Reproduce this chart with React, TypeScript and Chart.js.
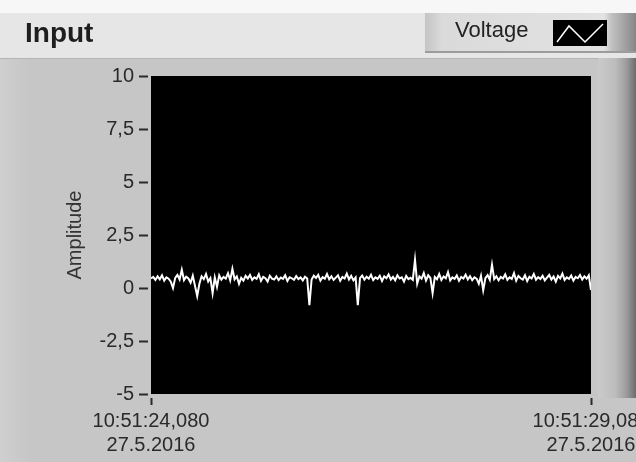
import React, { useEffect, useRef } from 'react';
import { Chart, registerables } from 'chart.js';

Chart.register(...registerables);

const CHART_TITLE = 'Input';
const SERIES_NAME = 'Voltage';
const Y_AXIS_TITLE = 'Amplitude';
const SAMPLE_STEP_S = 0.025;
const X_TICKS = [0, 5];
const X_TICK_LABELS = [
  ['10:51:24,080', '27.5.2016'],
  ['10:51:29,080', '27.5.2016'],
];
const Y_TICKS = [10, 7.5, 5, 2.5, 0, -2.5, -5];

const voltage = [
  0.45, 0.52, 0.38, 0.55, 0.41, 0.6, 0.35, 0.5, 0.44, 0.3,
  0.0, 0.48, 0.62, 0.4, 0.86, 0.37, 0.53, 0.45, 0.25, 0.58,
  0.1, -0.38, 0.2, 0.55, 0.42, 0.66, 0.3, 0.47, -0.24, 0.5,
  0.05, 0.6, 0.39, 0.52, 0.44, 0.7, 0.36, 0.9, 0.41, 0.55,
  0.2, 0.48, 0.35, 0.57, 0.45, 0.62, 0.38, 0.5, 0.43, 0.65,
  0.34, 0.52, 0.46, 0.3, 0.58, 0.44, 0.4, 0.55, 0.37, 0.49,
  0.43, 0.6, 0.33, 0.51, 0.46, 0.39, 0.56, 0.42, 0.5, 0.36,
  0.53, 0.45, -0.81, 0.4, 0.58, 0.47, 0.62, 0.35, 0.51, 0.44,
  0.66, 0.41, 0.55, 0.38, 0.49, 0.6, 0.34, 0.52, 0.45, 0.68,
  0.4, 0.57, 0.36, 0.5, -0.81, 0.46, 0.59, 0.39, 0.53, 0.44,
  0.62, 0.37, 0.5, 0.43, 0.58, 0.33, 0.55, 0.46, 0.64, 0.4,
  0.52, 0.36, 0.6, 0.45, 0.5, 0.3, 0.57, 0.42, 0.48, 0.38,
  1.33, 0.2, 0.55, 0.44, 0.7, 0.35, 0.6, 0.47, -0.24, 0.52,
  0.41, 0.66, 0.38, 0.54, 0.46, 0.75, 0.36, 0.5, 0.43, 0.59,
  0.34, 0.52, 0.45, 0.63, 0.4, 0.56, 0.37, 0.5, 0.44, 0.2,
  0.58, -0.1, 0.47, 0.61, 0.39, 1.1, 0.42, 0.55, 0.36, 0.52,
  0.45, 0.64, 0.38, 0.5, 0.43, 0.7, 0.35, 0.57, 0.46, 0.4,
  0.6, 0.33, 0.53, 0.45, 0.66, 0.39, 0.51, 0.42, 0.58, 0.36,
  0.49, 0.62, 0.4, 0.54, 0.3, 0.57, 0.45, 0.68, 0.38, 0.5,
  0.43, 0.59, 0.35, 0.52, 0.46, 0.61, 0.4, 0.55, 0.44, 0.6,
  -0.1,
];

const FONT = 'Liberation Sans';

const framePlugin = {
  id: 'labviewFrame',
  beforeDraw(chart: any) {
    const { ctx, chartArea } = chart;
    const W = chart.width;
    const H = chart.height;
    ctx.save();
    // page
    ctx.fillStyle = '#f7f7f7';
    ctx.fillRect(0, 0, W, H);
    // header band
    ctx.fillStyle = '#e6e6e6';
    ctx.fillRect(0, 13, W, 45);
    // legend box
    const lg = ctx.createLinearGradient(425, 0, 636, 0);
    lg.addColorStop(0, '#c4c4c4');
    lg.addColorStop(0.08, '#dadada');
    lg.addColorStop(0.85, '#e2e2e2');
    lg.addColorStop(0.88, '#c4c4c4');
    lg.addColorStop(1, '#868686');
    ctx.fillStyle = lg;
    ctx.fillRect(425, 13, W - 425, 39);
    ctx.fillStyle = '#9c9c9c';
    ctx.fillRect(425, 51, W - 425, 2);
    // panel
    ctx.fillStyle = '#c6c6c6';
    ctx.fillRect(0, 58, W, H - 58);
    const pl = ctx.createLinearGradient(0, 0, 30, 0);
    pl.addColorStop(0, '#cfcfcf');
    pl.addColorStop(1, '#c6c6c6');
    ctx.fillStyle = pl;
    ctx.fillRect(0, 58, 30, H - 58);
    ctx.fillStyle = '#b4b4b4';
    ctx.fillRect(0, 58, W, 1);
    // right bevel strip
    const rg = ctx.createLinearGradient(598, 0, 636, 0);
    rg.addColorStop(0, '#cacaca');
    rg.addColorStop(0.45, '#bdbdbd');
    rg.addColorStop(0.75, '#9c9c9c');
    rg.addColorStop(1, '#6c6c6c');
    ctx.fillStyle = rg;
    ctx.fillRect(598, 58, W - 598, 340);
    // plot area
    ctx.fillStyle = '#000000';
    ctx.fillRect(chartArea.left, chartArea.top, chartArea.right - chartArea.left, chartArea.bottom - chartArea.top);
    // title
    ctx.fillStyle = '#1e1e1e';
    ctx.font = `bold 28px "${FONT}"`;
    ctx.textBaseline = 'middle';
    ctx.textAlign = 'left';
    ctx.fillText(CHART_TITLE, 25, 34);
    // legend label
    ctx.fillStyle = '#222222';
    ctx.font = `22px "${FONT}"`;
    ctx.fillText(SERIES_NAME, 455, 31);
    // legend icon
    ctx.fillStyle = '#000000';
    ctx.fillRect(553, 20, 54, 26);
    ctx.strokeStyle = '#ffffff';
    ctx.lineWidth = 1.5;
    ctx.beginPath();
    ctx.moveTo(557, 42);
    ctx.lineTo(569, 26);
    ctx.lineTo(585, 42);
    ctx.lineTo(603, 24);
    ctx.stroke();
    ctx.restore();
  },
};

export default function App() {
  const ref = useRef<HTMLCanvasElement>(null);
  useEffect(() => {
    document.body.style.margin = '0';
    const canvas = ref.current;
    if (!canvas) return;
    const chart = new Chart(canvas, {
      type: 'line',
      data: {
        datasets: [
          {
            label: SERIES_NAME,
            data: voltage.map((y, i) => ({ x: i * SAMPLE_STEP_S, y })),
            borderColor: '#ffffff',
            borderWidth: 2,
            pointRadius: 0,
            tension: 0,
          },
        ],
      },
      options: {
        animation: false,
        responsive: false,
        devicePixelRatio: 1,
        layout: { autoPadding: false, padding: { left: 0, top: 76, right: 45, bottom: 0 } },
        plugins: { legend: { display: false }, title: { display: false }, tooltip: { enabled: false } },
        scales: {
          x: {
            type: 'linear',
            min: 0,
            max: 5,
            afterBuildTicks: (s: any) => {
              s.ticks = X_TICKS.map((v) => ({ value: v }));
            },
            afterFit: (s: any) => {
              s.height = 68;
              s.paddingLeft = 0;
              s.paddingRight = 0;
            },
            ticks: {
              color: '#2a2a2a',
              font: { family: FONT, size: 20, lineHeight: 1.2 },
              padding: 4,
              maxRotation: 0,
              autoSkip: false,
              callback: (v: any) => (v === X_TICKS[0] ? X_TICK_LABELS[0] : X_TICK_LABELS[1]),
            },
            grid: {
              drawOnChartArea: false,
              tickLength: 11,
              tickColor: '#2a2a2a',
              tickWidth: 2,
              tickBorderDash: [0, 4, 7, 100],
            },
            border: { display: false },
          },
          y: {
            min: -5,
            max: 10,
            afterBuildTicks: (s: any) => {
              s.ticks = Y_TICKS.map((v) => ({ value: v }));
            },
            afterFit: (s: any) => {
              s.width = 151;
              s.paddingTop = 0;
              s.paddingBottom = 0;
            },
            ticks: {
              color: '#2a2a2a',
              font: { family: FONT, size: 20 },
              padding: 5,
              callback: (v: any) => String(v).replace('.', ','),
            },
            grid: {
              drawOnChartArea: false,
              tickLength: 12,
              tickColor: '#2a2a2a',
              tickWidth: 2,
              tickBorderDash: [9, 3],
            },
            border: { display: false },
            title: {
              display: true,
              text: Y_AXIS_TITLE,
              color: '#333333',
              font: { family: FONT, size: 20 },
              padding: { top: 63, bottom: 0 },
            },
          },
        },
      },
      plugins: [framePlugin],
    });
    return () => chart.destroy();
  }, []);
  return (
    <div style={{ width: 636, height: 462 }}>
      <canvas ref={ref} width={636} height={462} style={{ display: 'block' }} />
    </div>
  );
}
